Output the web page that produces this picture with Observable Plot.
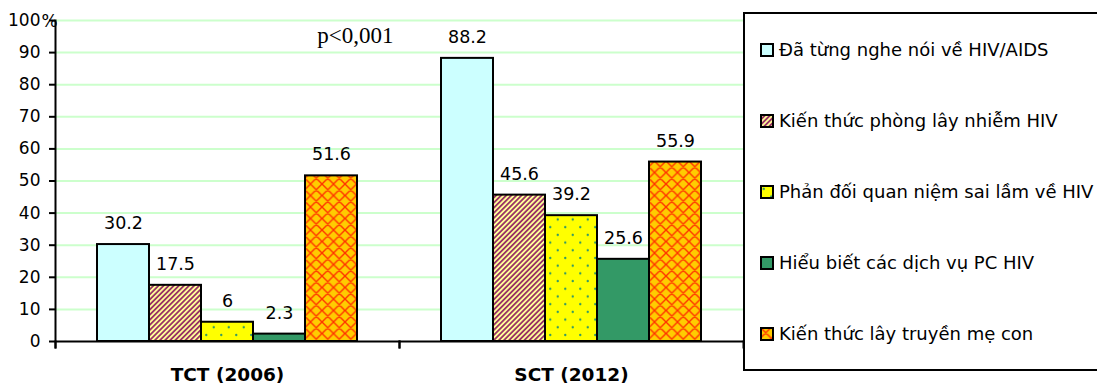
<!DOCTYPE html>
<html>
<head>
<meta charset="utf-8">
<script src="https://cdn.jsdelivr.net/npm/d3@7"></script>
<script src="https://cdn.jsdelivr.net/npm/@observablehq/plot@0.6"></script>
<style>
  html, body { margin: 0; padding: 0; background: #fff; overflow: hidden; }
  #wrap { position: relative; width: 1097px; height: 387px; font-family: "DejaVu Sans", sans-serif; }
  #chart { position: absolute; left: 0; top: 0; }
  #legend {
    position: absolute; left: 743px; top: 12px; width: 370px; height: 355px;
    border: 2px solid #000; background: #fff; box-sizing: content-box;
    display: flex; flex-direction: column; justify-content: space-around;
  }
  .item { display: flex; align-items: center; padding-left: 15px; font-size: 18px; color: #000; white-space: nowrap; }
  .item svg { margin-right: 5px; flex: none; }
</style>
</head>
<body>
<div id="wrap">
  <div id="chart"></div>
  <div id="legend"></div>
</div>
<script>
// ---- data ----
const groups = ["TCT (2006)", "SCT (2012)"];
const seriesNames = [
  "Đã từng nghe nói về HIV/AIDS",
  "Kiến thức phòng lây nhiễm HIV",
  "Phản đối quan niệm sai lầm về HIV",
  "Hiểu biết các dịch vụ PC HIV",
  "Kiến thức lây truyền mẹ con"
];
const valuesTCT2006 = [30.2, 17.5, 6, 2.3, 51.6];
const valuesSCT2012 = [88.2, 45.6, 39.2, 25.6, 55.9];
const yTicks = [0, 10, 20, 30, 40, 50, 60, 70, 80, 90, 100];
const yUnit = "%";
const pValueNote = "p<0,001";

// ---- styles ----
const fills = ["#ccffff", "url(#p-stripe)", "url(#p-dots)", "#339966", "url(#p-cross)"];

const rows = [];
[valuesTCT2006, valuesSCT2012].forEach((vals, gi) => {
  vals.forEach((v, si) => rows.push({group: groups[gi], series: seriesNames[si], value: v, fill: fills[si]}));
});

const W = 745, H = 387, mT = 20, mB = 46, mL = 55, mR = 2;
const innerH = H - mT - mB;

const plot = Plot.plot({
  width: W, height: H,
  marginTop: mT, marginBottom: mB, marginLeft: mL, marginRight: mR,
  style: {fontFamily: "DejaVu Sans, sans-serif", color: "#000", background: "transparent"},
  fx: {domain: groups, padding: 0, axis: null},
  x: {domain: seriesNames, paddingInner: 0, paddingOuter: 0.76, align: 0.5, axis: null},
  y: {domain: [0, 100], axis: null},
  marks: [
    Plot.gridY(yTicks.slice(1), {stroke: "#ccffcc", strokeOpacity: 1, strokeWidth: 2}),
    Plot.barY(rows, {fx: "group", x: "series", y: "value", fill: d => d.fill, stroke: "#000", strokeWidth: 2}),
    Plot.text(rows, {fx: "group", x: "series", y: "value", text: d => String(d.value), dy: -21, fontSize: 17.5, fill: "#000"}),
    Plot.ruleY([0], {stroke: "#000", strokeWidth: 2}),
    Plot.frame({anchor: "left", facetAnchor: "left", stroke: "#000", strokeWidth: 2, insetBottom: -6}),
    Plot.frame({anchor: "left", stroke: "#000", strokeWidth: 2, insetTop: innerH, insetBottom: -6}),
    Plot.frame({anchor: "right", stroke: "#000", strokeWidth: 2, insetTop: innerH, insetBottom: -6}),
    Plot.axisY({ticks: yTicks, tickSize: 6, tickPadding: 9, fontSize: 17, stroke: "#000", strokeWidth: 2, label: null, tickFormat: d => String(d)}),
    Plot.axisFx({anchor: "bottom", tickSize: 0, tickPadding: 26, fontSize: 18.5, fontWeight: "bold", label: null}),
    Plot.text([{group: groups[0], t: yUnit}], {fx: "group", text: "t", frameAnchor: "top-left", dx: -14, dy: -6, fontSize: 17, fill: "#000"}),
    Plot.text([{group: groups[0], t: pValueNote}], {fx: "group", text: "t", frameAnchor: "top-right", textAnchor: "end", dx: -6, dy: 6, fontSize: 23, fontFamily: "Liberation Serif, serif", fill: "#000"})
  ]
});

// pattern defs
const defs = d3.select(plot).insert("defs", ":first-child");
const ps = defs.append("pattern").attr("id", "p-stripe").attr("patternUnits", "userSpaceOnUse")
  .attr("width", 3.6).attr("height", 3.6).attr("patternTransform", "rotate(45)");
ps.append("rect").attr("width", 3.6).attr("height", 3.6).attr("fill", "#ffff99");
ps.append("rect").attr("width", 1.8).attr("height", 3.6).attr("fill", "#993366");

const pd = defs.append("pattern").attr("id", "p-dots").attr("patternUnits", "userSpaceOnUse")
  .attr("width", 15).attr("height", 15.4);
pd.append("rect").attr("width", 15).attr("height", 15.4).attr("fill", "#ffff00");
pd.append("circle").attr("cx", 3.75).attr("cy", 3.85).attr("r", 1.2).attr("fill", "#339966");
pd.append("circle").attr("cx", 11.25).attr("cy", 11.55).attr("r", 1.2).attr("fill", "#339966");

const pc = defs.append("pattern").attr("id", "p-cross").attr("patternUnits", "userSpaceOnUse")
  .attr("width", 11.5).attr("height", 11.5);
pc.append("rect").attr("width", 11.5).attr("height", 11.5).attr("fill", "#ffcc00");
pc.append("path").attr("d", "M0,0L11.5,11.5M11.5,0L0,11.5M-1,10.5L1,12.5M10.5,-1L12.5,1M-1,1L1,-1M10.5,12.5L12.5,10.5")
  .attr("stroke", "#ff3300").attr("stroke-width", 1.4);

document.getElementById("chart").appendChild(plot);

// legend
const legend = d3.select("#legend");
seriesNames.forEach((name, i) => {
  const it = legend.append("div").attr("class", "item");
  const s = it.append("svg").attr("width", 14).attr("height", 14);
  s.append("rect").attr("x", 1).attr("y", 1).attr("width", 12).attr("height", 12)
    .attr("fill", fills[i]).attr("stroke", "#000").attr("stroke-width", 2);
  it.append("span").text(name);
});
</script>
</body>
</html>
